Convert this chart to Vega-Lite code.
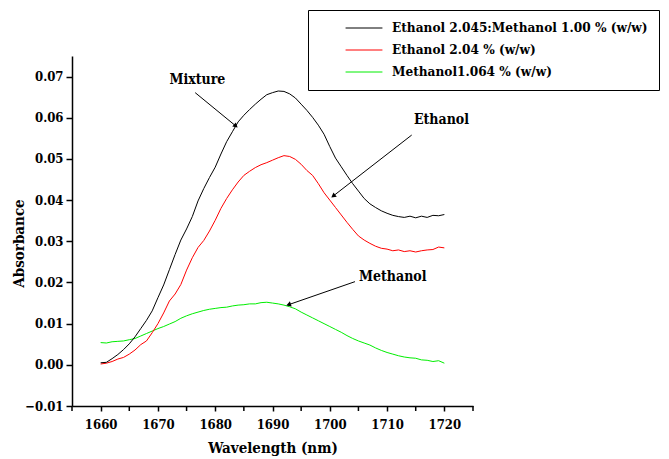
{
  "$schema": "https://vega.github.io/schema/vega-lite/v6.json",
  "autosize": {"type": "none"},
  "width": 401,
  "height": 350,
  "padding": {"left": 72, "top": 56, "right": 196, "bottom": 53},
  "background": "white",
  "config": {
    "view": {"stroke": null},
    "font": "DejaVu Serif Condensed, DejaVu Serif",
    "axis": {"grid": false, "domainColor": "black", "tickColor": "black", "domainWidth": 1.5, "tickWidth": 1.5, "labelColor": "black", "titleColor": "black", "labelFont": "DejaVu Serif Condensed, DejaVu Serif", "titleFont": "DejaVu Serif Condensed, DejaVu Serif", "labelFontWeight": "bold", "titleFontWeight": "bold", "labelFontSize": 13, "titleFontSize": 15}
  },
  "datasets": {
    "spectra": [
      {"wl":1660,"Mixture":0.0005,"Ethanol":0.0002,"Methanol":0.0054},
      {"wl":1661,"Mixture":0.0006,"Ethanol":0.0004,"Methanol":0.0053},
      {"wl":1662,"Mixture":0.0015,"Ethanol":0.0008,"Methanol":0.0056},
      {"wl":1663,"Mixture":0.0025,"Ethanol":0.0014,"Methanol":0.0057},
      {"wl":1664,"Mixture":0.0037,"Ethanol":0.0018,"Methanol":0.0058},
      {"wl":1665,"Mixture":0.0051,"Ethanol":0.0026,"Methanol":0.0061},
      {"wl":1666,"Mixture":0.0068,"Ethanol":0.0036,"Methanol":0.0064},
      {"wl":1667,"Mixture":0.0088,"Ethanol":0.0049,"Methanol":0.0070},
      {"wl":1668,"Mixture":0.0108,"Ethanol":0.0058,"Methanol":0.0076},
      {"wl":1669,"Mixture":0.0131,"Ethanol":0.0078,"Methanol":0.0082},
      {"wl":1670,"Mixture":0.0163,"Ethanol":0.0100,"Methanol":0.0088},
      {"wl":1671,"Mixture":0.0194,"Ethanol":0.0126,"Methanol":0.0093},
      {"wl":1672,"Mixture":0.0231,"Ethanol":0.0155,"Methanol":0.0099},
      {"wl":1673,"Mixture":0.0268,"Ethanol":0.0172,"Methanol":0.0105},
      {"wl":1674,"Mixture":0.0303,"Ethanol":0.0195,"Methanol":0.0113},
      {"wl":1675,"Mixture":0.0330,"Ethanol":0.0230,"Methanol":0.0119},
      {"wl":1676,"Mixture":0.0360,"Ethanol":0.0260,"Methanol":0.0124},
      {"wl":1677,"Mixture":0.0398,"Ethanol":0.0285,"Methanol":0.0128},
      {"wl":1678,"Mixture":0.0428,"Ethanol":0.0302,"Methanol":0.0132},
      {"wl":1679,"Mixture":0.0455,"Ethanol":0.0325,"Methanol":0.0135},
      {"wl":1680,"Mixture":0.0480,"Ethanol":0.0351,"Methanol":0.0137},
      {"wl":1681,"Mixture":0.0512,"Ethanol":0.0380,"Methanol":0.0139},
      {"wl":1682,"Mixture":0.0542,"Ethanol":0.0404,"Methanol":0.0140},
      {"wl":1683,"Mixture":0.0566,"Ethanol":0.0425,"Methanol":0.0143},
      {"wl":1684,"Mixture":0.0590,"Ethanol":0.0444,"Methanol":0.0145},
      {"wl":1685,"Mixture":0.0606,"Ethanol":0.0460,"Methanol":0.0146},
      {"wl":1686,"Mixture":0.0620,"Ethanol":0.0470,"Methanol":0.0148},
      {"wl":1687,"Mixture":0.0633,"Ethanol":0.0479,"Methanol":0.0148},
      {"wl":1688,"Mixture":0.0645,"Ethanol":0.0486,"Methanol":0.0151},
      {"wl":1689,"Mixture":0.0656,"Ethanol":0.0491,"Methanol":0.0152},
      {"wl":1690,"Mixture":0.0661,"Ethanol":0.0497,"Methanol":0.0150},
      {"wl":1691,"Mixture":0.0665,"Ethanol":0.0503,"Methanol":0.0148},
      {"wl":1692,"Mixture":0.0664,"Ethanol":0.0508,"Methanol":0.0145},
      {"wl":1693,"Mixture":0.0658,"Ethanol":0.0506,"Methanol":0.0141},
      {"wl":1694,"Mixture":0.0648,"Ethanol":0.0499,"Methanol":0.0136},
      {"wl":1695,"Mixture":0.0633,"Ethanol":0.0487,"Methanol":0.0128},
      {"wl":1696,"Mixture":0.0618,"Ethanol":0.0472,"Methanol":0.0121},
      {"wl":1697,"Mixture":0.0601,"Ethanol":0.0460,"Methanol":0.0114},
      {"wl":1698,"Mixture":0.0582,"Ethanol":0.0440,"Methanol":0.0107},
      {"wl":1699,"Mixture":0.0560,"Ethanol":0.0418,"Methanol":0.0100},
      {"wl":1700,"Mixture":0.0530,"Ethanol":0.0400,"Methanol":0.0093},
      {"wl":1701,"Mixture":0.0502,"Ethanol":0.0382,"Methanol":0.0086},
      {"wl":1702,"Mixture":0.0481,"Ethanol":0.0364,"Methanol":0.0079},
      {"wl":1703,"Mixture":0.0460,"Ethanol":0.0346,"Methanol":0.0071},
      {"wl":1704,"Mixture":0.0440,"Ethanol":0.0329,"Methanol":0.0064},
      {"wl":1705,"Mixture":0.0422,"Ethanol":0.0313,"Methanol":0.0058},
      {"wl":1706,"Mixture":0.0404,"Ethanol":0.0303,"Methanol":0.0053},
      {"wl":1707,"Mixture":0.0391,"Ethanol":0.0295,"Methanol":0.0048},
      {"wl":1708,"Mixture":0.0382,"Ethanol":0.0288,"Methanol":0.0041},
      {"wl":1709,"Mixture":0.0374,"Ethanol":0.0283,"Methanol":0.0035},
      {"wl":1710,"Mixture":0.0368,"Ethanol":0.0281,"Methanol":0.0030},
      {"wl":1711,"Mixture":0.0363,"Ethanol":0.0277,"Methanol":0.0026},
      {"wl":1712,"Mixture":0.0360,"Ethanol":0.0279,"Methanol":0.0022},
      {"wl":1713,"Mixture":0.0358,"Ethanol":0.0275,"Methanol":0.0019},
      {"wl":1714,"Mixture":0.0361,"Ethanol":0.0277,"Methanol":0.0017},
      {"wl":1715,"Mixture":0.0357,"Ethanol":0.0274,"Methanol":0.0016},
      {"wl":1716,"Mixture":0.0361,"Ethanol":0.0277,"Methanol":0.0012},
      {"wl":1717,"Mixture":0.0358,"Ethanol":0.0279,"Methanol":0.0011},
      {"wl":1718,"Mixture":0.0363,"Ethanol":0.0280,"Methanol":0.0008},
      {"wl":1719,"Mixture":0.0362,"Ethanol":0.0286,"Methanol":0.0010},
      {"wl":1720,"Mixture":0.0365,"Ethanol":0.0284,"Methanol":0.0004}
    ],
    "notes": [
      {"label":"Mixture","tx":1676.9,"ty":0.0692,"x1":1676.5,"y1":0.0661,"x2":1683.6,"y2":0.0580},
      {"label":"Ethanol","tx":1719.5,"ty":0.0595,"x1":1714.3,"y1":0.0558,"x2":1700.6,"y2":0.0410},
      {"label":"Methanol","tx":1711.0,"ty":0.0214,"x1":1704.4,"y1":0.0202,"x2":1692.8,"y2":0.0146}
    ],
    "xminor": [
      {"wl":1655},{"wl":1665},{"wl":1675},{"wl":1685},{"wl":1695},{"wl":1705},{"wl":1715},{"wl":1725}
    ]
  },
  "layer": [
    {
      "data": {"name": "spectra"},
      "transform": [{"fold": ["Methanol", "Ethanol", "Mixture"], "as": ["series", "abs"]}],
      "mark": {"type": "line", "strokeWidth": 1, "clip": true},
      "encoding": {
        "x": {"field": "wl", "type": "quantitative", "title": "Wavelength (nm)",
          "scale": {"domain": [1655, 1725], "nice": false, "zero": false},
          "axis": {"values": [1660,1670,1680,1690,1700,1710,1720],
            "format": "d",
            "tickSize": 5,
            "labelPadding": 7, "titlePadding": 9, "labelFlush": false, "labelOverlap": false}},
        "y": {"field": "abs", "type": "quantitative", "title": "Absorbance",
          "scale": {"domain": [-0.01, 0.075], "nice": false, "zero": false},
          "axis": {"values": [-0.01,-0.005,0,0.005,0.01,0.015,0.02,0.025,0.03,0.035,0.04,0.045,0.05,0.055,0.06,0.065,0.07,0.075],
            "format": ".2f",
            "labelExpr": "abs(round(datum.value*100) - datum.value*100) < 0.001 ? datum.label : ''",
            "tickSize": {"condition": {"test": "abs(round(datum.value*100) - datum.value*100) < 0.001", "value": 6}, "value": 4},
            "labelPadding": 3, "titleX": -46, "titleY": 187, "labelFlush": false, "labelOverlap": false}},
        "color": {"field": "series", "type": "nominal",
          "scale": {"domain": ["Mixture", "Ethanol", "Methanol"], "range": ["#000000", "#ff0000", "#00ee00"]},
          "legend": {"orient": "none", "legendX": 236, "legendY": -46, "title": null,
            "symbolType": "M-3,0H3", "symbolSize": 151, "symbolStrokeWidth": 1,
            "symbolOffset": 38, "padding": 11, "rowPadding": 8,
            "labelFont": "DejaVu Serif Condensed, DejaVu Serif", "labelFontWeight": "bold", "labelFontSize": 13.5, "labelColor": "black",
            "labelLimit": 500, "labelOffset": 21,
            "strokeColor": "black", "fillColor": "white",
            "labelExpr": "datum.label == 'Mixture' ? 'Ethanol 2.045:Methanol 1.00 % (w/w)' : datum.label == 'Ethanol' ? 'Ethanol 2.04 % (w/w)' : 'Methanol1.064 % (w/w)'"}}
      }
    },
    {
      "data": {"name": "xminor"},
      "mark": {"type": "point", "shape": "M0,0V1", "size": 100, "filled": false, "stroke": "black", "strokeWidth": 1.5, "opacity": 1, "clip": false},
      "encoding": {
        "x": {"field": "wl", "type": "quantitative"},
        "y": {"datum": -0.01}
      }
    },
    {
      "data": {"name": "notes"},
      "mark": {"type": "rule", "color": "black", "strokeWidth": 1},
      "encoding": {
        "x": {"field": "x1", "type": "quantitative"},
        "y": {"field": "y1", "type": "quantitative"},
        "x2": {"field": "x2"},
        "y2": {"field": "y2"}
      }
    },
    {
      "data": {"name": "notes"},
      "mark": {"type": "text", "font": "DejaVu Serif Condensed, DejaVu Serif", "fontWeight": "bold", "fontSize": 14, "color": "black", "align": "center", "baseline": "middle"},
      "encoding": {
        "x": {"field": "tx", "type": "quantitative"},
        "y": {"field": "ty", "type": "quantitative"},
        "text": {"field": "label"}
      }
    },
    {
      "data": {"name": "notes"},
      "transform": [{"filter": "datum.label == 'Mixture'"}],
      "mark": {"type": "point", "shape": "triangle-up", "filled": true, "color": "black", "size": 30, "angle": 129.5, "opacity": 1},
      "encoding": {"x": {"field": "x2", "type": "quantitative"}, "y": {"field": "y2", "type": "quantitative"}}
    },
    {
      "data": {"name": "notes"},
      "transform": [{"filter": "datum.label == 'Ethanol'"}],
      "mark": {"type": "point", "shape": "triangle-up", "filled": true, "color": "black", "size": 30, "angle": 232.4, "opacity": 1},
      "encoding": {"x": {"field": "x2", "type": "quantitative"}, "y": {"field": "y2", "type": "quantitative"}}
    },
    {
      "data": {"name": "notes"},
      "transform": [{"filter": "datum.label == 'Methanol'"}],
      "mark": {"type": "point", "shape": "triangle-up", "filled": true, "color": "black", "size": 30, "angle": 251.2, "opacity": 1},
      "encoding": {"x": {"field": "x2", "type": "quantitative"}, "y": {"field": "y2", "type": "quantitative"}}
    }
  ]
}
